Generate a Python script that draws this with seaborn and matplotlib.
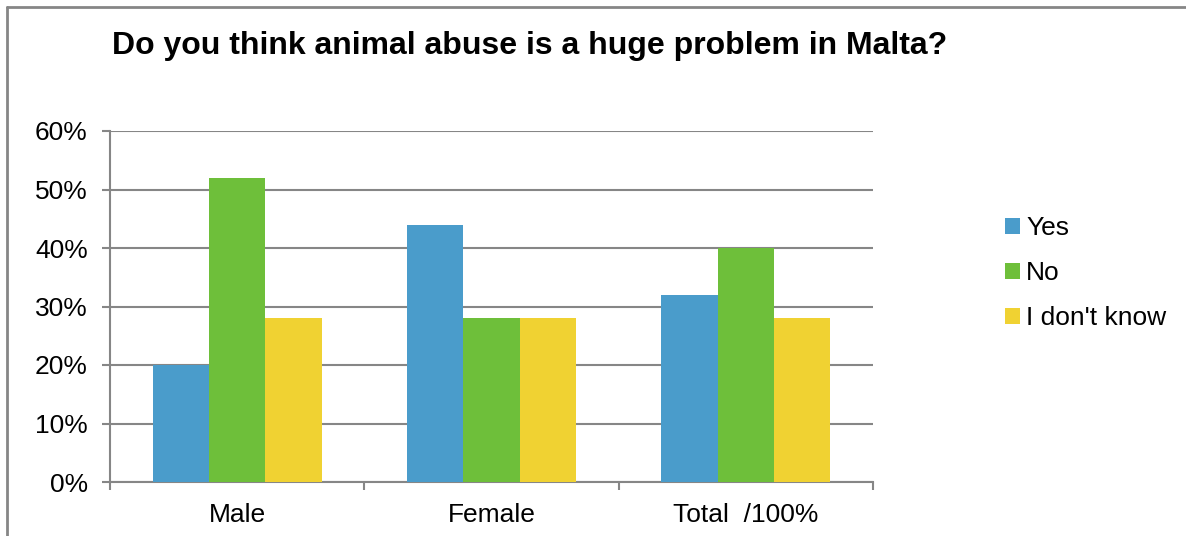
import pandas as pd
import matplotlib.pyplot as plt
import seaborn as sns
from matplotlib.lines import Line2D
from matplotlib.ticker import FixedLocator, PercentFormatter

# datos
groups = ['Male', 'Female', 'Total  /100%']
answers = ['Yes', 'No', "I don't know"]
yes = [20, 44, 32]
no = [52, 28, 40]
dont_know = [28, 28, 28]

rows = []
for i, g in enumerate(groups):
    rows.append((g, answers[0], yes[i]))
    rows.append((g, answers[1], no[i]))
    rows.append((g, answers[2], dont_know[i]))
data = pd.DataFrame(rows, columns=['group', 'answer', 'value'])

colors = ['#4A9CCB', '#6EBF3A', '#F0D232']
grid_col = '#868686'

sns.set_style('white')
plt.rcParams['font.family'] = ['Liberation Sans', 'DejaVu Sans']
plt.rcParams['text.color'] = 'black'
plt.rcParams['xtick.labelcolor'] = 'black'
plt.rcParams['ytick.labelcolor'] = 'black'

fig = plt.figure(figsize=(11.86, 5.36), dpi=100)
ax = fig.add_axes([110 / 1186, 1 - 482 / 536, (873 - 110) / 1186, (482 - 131) / 536])

sns.barplot(data=data, x='group', y='value', hue='answer', palette=colors,
            width=0.665, saturation=1, ax=ax, zorder=3, linewidth=0)

ax.set_ylim(0, 60)
ax.set_xlim(-0.5, 2.5)
ax.set_yticks(range(0, 61, 10))
ax.yaxis.set_major_formatter(PercentFormatter(decimals=0))
ax.yaxis.grid(True, color=grid_col, linewidth=1.5, zorder=0)
ax.set_axisbelow(True)

# ticks en los limites de categoria, etiquetas en el centro
ax.xaxis.set_major_locator(FixedLocator([-0.5, 0.5, 1.5, 2.5]))
ax.xaxis.set_minor_locator(FixedLocator([0, 1, 2]))
ax.set_xticklabels([], minor=False)
ax.set_xticklabels(groups, minor=True)
ax.tick_params(axis='x', which='major', length=6, width=1.5, color=grid_col, direction='out', bottom=True)
ax.tick_params(axis='x', which='minor', length=0, labelsize=19, pad=15, labelcolor='black')
ax.tick_params(axis='y', length=6, width=1.5, color=grid_col, direction='out', left=True,
               labelsize=19, pad=10, labelcolor='black')

for side in ['top', 'right']:
    ax.spines[side].set_visible(False)
for side in ['left', 'bottom']:
    ax.spines[side].set_color(grid_col)
    ax.spines[side].set_linewidth(1.5)

ax.set_xlabel('')
ax.set_ylabel('')

handles, labels = ax.get_legend_handles_labels()
ax.legend(handles, labels, loc='center left', bbox_to_anchor=(1.142, 0.595), frameon=False,
          fontsize=19, handlelength=0.55, handleheight=0.55, handletextpad=0.25, labelspacing=0.8)

fig.text(530 / 1186, 1 - 46 / 536, 'Do you think animal abuse is a huge problem in Malta?',
         ha='center', va='center', fontsize=23, fontweight='bold', color='black')

# marco del grafico
fig.add_artist(Line2D([7 / 1186, 7 / 1186], [0, 1 - 7 / 536], color=grid_col, linewidth=2))
fig.add_artist(Line2D([7 / 1186, 1], [1 - 7 / 536, 1 - 7 / 536], color=grid_col, linewidth=2))

plt.savefig('out.png', dpi=100)
